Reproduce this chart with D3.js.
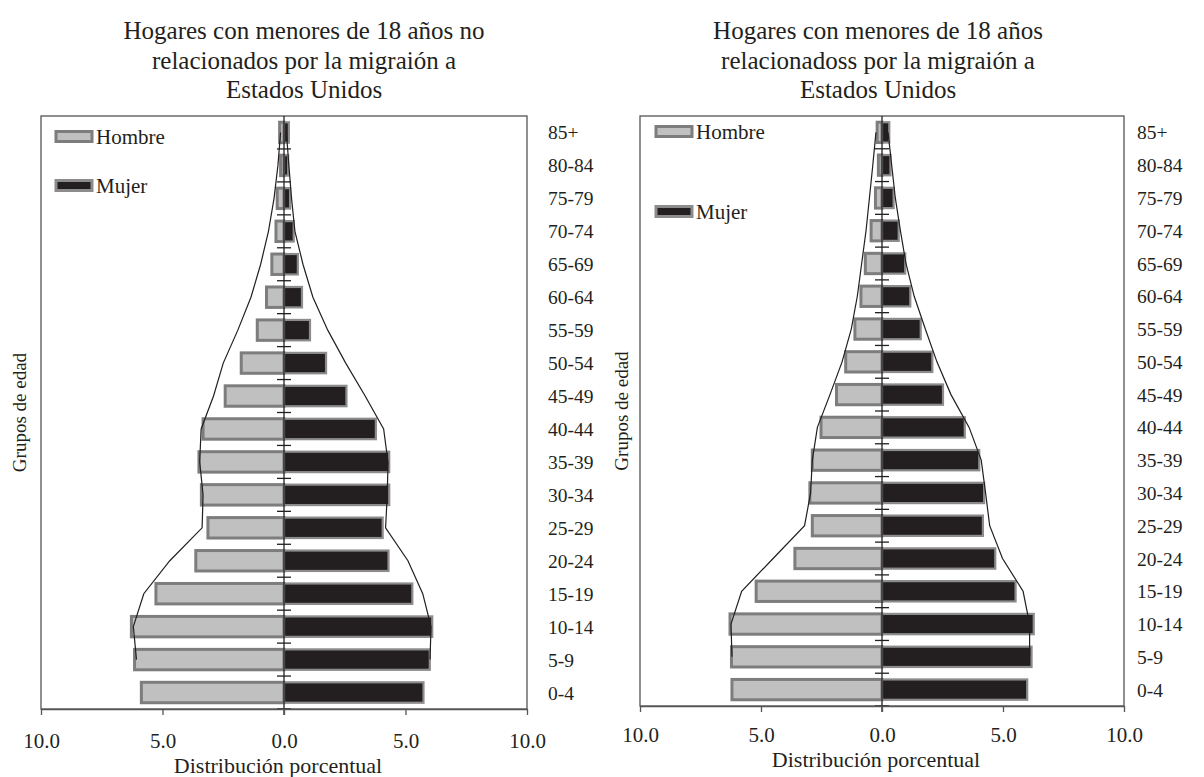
<!DOCTYPE html>
<html>
<head>
<meta charset="utf-8">
<script src="https://cdn.jsdelivr.net/npm/d3@7"></script>
<style>
  html, body { margin: 0; padding: 0; background: #ffffff; }
  svg { display: block; }
  text { font-family: "Liberation Serif", "Times New Roman", serif; fill: #231f20; }
</style>
</head>
<body>
<svg id="chart" width="1204" height="777"></svg>
<script>
// ---------------- DATA ----------------
const ageGroups = ["0-4","5-9","10-14","15-19","20-24","25-29","30-34","35-39","40-44",
                   "45-49","50-54","55-59","60-64","65-69","70-74","75-79","80-84","85+"];
const xTickValues = [-10, -5, 0, 5, 10];
const seriesNames = ["Hombre", "Mujer"];

// Left panel: no relacionados por la migración
const leftHombre = [5.87, 6.15, 6.28, 5.27, 3.63, 3.13, 3.40, 3.50, 3.33, 2.42, 1.76, 1.10, 0.72, 0.50, 0.33, 0.28, 0.14, 0.18];
const leftMujer  = [5.74, 6.00, 6.10, 5.28, 4.30, 4.06, 4.33, 4.33, 3.78, 2.57, 1.73, 1.07, 0.74, 0.57, 0.40, 0.25, 0.17, 0.20];
const leftLineHombre = [null, 6.07, 6.20, 5.77, 4.70, 3.37, 3.33, 3.47, 3.41, 2.90, 2.50, 1.90, 1.36, 0.96, 0.64, 0.41, 0.25, 0.14];
const leftLineMujer  = [null, 6.01, 6.05, 5.71, 5.10, 4.18, 4.25, 4.28, 4.10, 3.34, 2.54, 1.80, 1.19, 0.78, 0.45, 0.31, 0.20, 0.10];

// Right panel: relacionados por la migración
const rightHombre = [6.20, 6.22, 6.28, 5.20, 3.60, 2.88, 2.98, 2.88, 2.52, 1.88, 1.50, 1.12, 0.87, 0.69, 0.45, 0.27, 0.15, 0.20];
const rightMujer  = [6.00, 6.18, 6.27, 5.52, 4.68, 4.17, 4.22, 4.02, 3.42, 2.52, 2.08, 1.60, 1.17, 0.96, 0.69, 0.48, 0.35, 0.30];
const rightLineHombre = [null, 6.20, 6.24, 5.80, 4.50, 3.20, 2.95, 2.88, 2.67, 2.15, 1.65, 1.27, 1.02, 0.84, 0.66, 0.52, 0.38, 0.25];
const rightLineMujer  = [null, 6.10, 6.10, 5.83, 4.98, 4.45, 4.28, 4.10, 3.60, 2.85, 2.27, 1.79, 1.33, 0.99, 0.76, 0.55, 0.40, 0.25];

const leftTitle  = ["Hogares con menores de 18 años no", "relacionados por la migraión a", "Estados Unidos"];
const rightTitle = ["Hogares con menores de 18 años", "relacionadoss por la migraión  a", "Estados Unidos"];
const xAxisTitle = "Distribución porcentual";
const yAxisTitle = "Grupos de edad";

// ---------------- DRAW ----------------
const svg = d3.select("#chart");

function drawPanel(cfg) {
  const g = svg.append("g");
  const x = d3.scaleLinear().domain([-10, 10]).range([cfg.left, cfg.right]);
  const y = d3.scaleBand().domain(ageGroups.slice().reverse()).range([cfg.top, cfg.bottom]).paddingInner(0).paddingOuter(0);
  const bw = y.bandwidth();
  const barH = bw * 0.62;

  // title
  const t = g.append("text").attr("text-anchor", "middle").style("font-size", "25px");
  cfg.title.forEach((line, i) => {
    t.append("tspan").attr("x", cfg.titleX).attr("y", 39 + i * 29.5).text(line);
  });

  // frame
  g.append("rect")
    .attr("x", cfg.left).attr("y", cfg.top)
    .attr("width", cfg.right - cfg.left).attr("height", cfg.bottom - cfg.top)
    .attr("fill", "none").attr("stroke", "#555").attr("stroke-width", 1.3);

  // bars: Hombre (left, negative)
  g.selectAll(".h").data(ageGroups).enter().append("rect")
    .attr("x", (d, i) => x(-cfg.hombre[i]))
    .attr("width", (d, i) => x(0) - x(-cfg.hombre[i]))
    .attr("y", d => y(d) + (bw - barH) / 2)
    .attr("height", barH)
    .attr("fill", "#c0c0c0").attr("stroke", "#7d7d7d").attr("stroke-width", 3);

  // bars: Mujer (right, positive)
  g.selectAll(".m").data(ageGroups).enter().append("rect")
    .attr("x", x(0))
    .attr("width", (d, i) => x(cfg.mujer[i]) - x(0))
    .attr("y", d => y(d) + (bw - barH) / 2)
    .attr("height", barH)
    .attr("fill", "#231f20").attr("stroke", "#8c8c8c").attr("stroke-width", 2.2);

  // outline lines
  const lineH = d3.line()
    .defined(d => d.v !== null)
    .x(d => x(-d.v)).y(d => y(d.a) + bw / 2);
  const lineM = d3.line()
    .defined(d => d.v !== null)
    .x(d => x(d.v)).y(d => y(d.a) + bw / 2);
  g.append("path")
    .datum(ageGroups.map((a, i) => ({ a, v: cfg.lineH[i] })))
    .attr("d", lineH).attr("fill", "none").attr("stroke", "#231f20").attr("stroke-width", 1.2);
  g.append("path")
    .datum(ageGroups.map((a, i) => ({ a, v: cfg.lineM[i] })))
    .attr("d", lineM).attr("fill", "none").attr("stroke", "#231f20").attr("stroke-width", 1.2);

  // center vertical axis with ticks at band boundaries
  g.append("line")
    .attr("x1", x(0)).attr("x2", x(0))
    .attr("y1", cfg.top).attr("y2", cfg.bottom + 6)
    .attr("stroke", "#231f20").attr("stroke-width", 1.3);
  const bounds = ageGroups.slice(0, ageGroups.length - 1).map(a => y(a));
  bounds.push(cfg.bottom);
  g.selectAll(".ct").data(bounds).enter().append("line")
    .attr("x1", x(0) - 7).attr("x2", x(0) + 7)
    .attr("y1", d => d).attr("y2", d => d)
    .attr("stroke", "#231f20").attr("stroke-width", 1.3);

  // bottom axis
  const ax = d3.axisBottom(x).tickValues(xTickValues)
    .tickFormat(d => Math.abs(d).toFixed(1)).tickSize(6).tickSizeOuter(0);
  const axg = g.append("g").attr("transform", `translate(0,${cfg.bottom})`).call(ax);
  axg.select(".domain").attr("stroke", "#555").attr("stroke-width", 1.3);
  axg.selectAll(".tick line").attr("stroke", "#555").attr("stroke-width", 1.3);
  axg.selectAll(".tick text")
    .attr("dy", null).attr("y", cfg.tickBaseline - cfg.bottom)
    .style("font-size", "21px").style("font-family", "'Liberation Serif', 'Times New Roman', serif")
    .attr("fill", "#231f20");

  // x axis title
  g.append("text").attr("text-anchor", "middle")
    .attr("x", (cfg.left + cfg.right) / 2 - 6).attr("y", cfg.tickBaseline + 25)
    .style("font-size", "22px").text(xAxisTitle);

  // category labels on the right
  g.selectAll(".cat").data(ageGroups).enter().append("text")
    .attr("x", cfg.catX).attr("y", d => y(d) + bw / 2 + 7)
    .style("font-size", "19.5px").text(d => d);

  // y axis title
  g.append("text").attr("text-anchor", "middle")
    .attr("transform", `translate(${cfg.yTitleX},${(cfg.top + cfg.bottom) / 2}) rotate(-90)`)
    .style("font-size", "19px").text(yAxisTitle);

  // legend
  const legendFills = ["#c0c0c0", "#231f20"];
  seriesNames.forEach((name, i) => {
    const ly = cfg.legendY[i];
    g.append("rect").attr("x", cfg.legendX).attr("y", ly - 5.5).attr("width", 36).attr("height", 10)
      .attr("fill", legendFills[i]).attr("stroke", i === 0 ? "#7d7d7d" : "#8c8c8c").attr("stroke-width", 3);
    g.append("text").attr("x", cfg.legendX + 40).attr("y", ly + 7)
      .style("font-size", "21px").text(name);
  });
}

drawPanel({
  left: 41, right: 527, top: 116, bottom: 709,
  hombre: leftHombre, mujer: leftMujer, lineH: leftLineHombre, lineM: leftLineMujer,
  title: leftTitle, titleX: 304, tickBaseline: 748, catX: 548, yTitleX: 26,
  legendX: 56, legendY: [137, 186]
});

drawPanel({
  left: 640, right: 1124, top: 116, bottom: 706,
  hombre: rightHombre, mujer: rightMujer, lineH: rightLineHombre, lineM: rightLineMujer,
  title: rightTitle, titleX: 878, tickBaseline: 742, catX: 1137, yTitleX: 628,
  legendX: 656, legendY: [132, 212]
});
</script>
</body>
</html>
